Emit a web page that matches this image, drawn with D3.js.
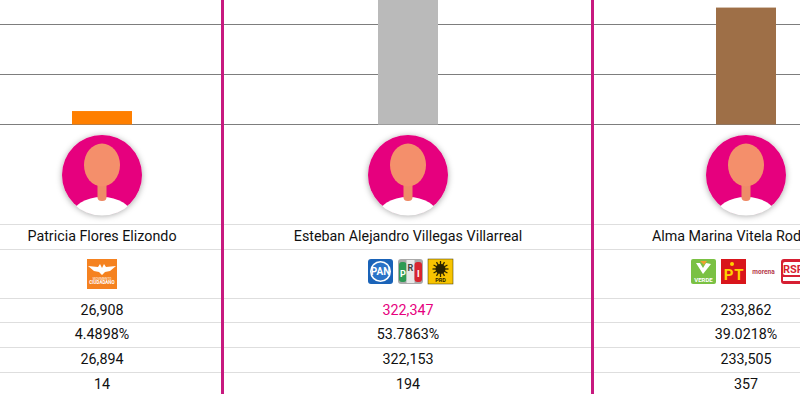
<!DOCTYPE html>
<html>
<head>
<meta charset="utf-8">
<script src="https://cdn.jsdelivr.net/npm/d3@7"></script>
<style>
    html, body {margin: 0; padding: 0; background: #fff; overflow: hidden;}
    svg {display: block; font-family: Roboto, sans-serif;}
</style>
</head>
<body>
<svg id="chart" width="800" height="394"></svg>
<script>
const candidates = ['Patricia Flores Elizondo', 'Esteban Alejandro Villegas Villarreal', 'Alma Marina Vitela Rodríguez']
const votes = [26908, 322347, 233862]
const voteLabels = ['26,908', '322,347', '233,862']
const percents = ['4.4898%', '53.7863%', '39.0218%']
const counted = ['26,894', '322,153', '233,505']
const other = ['14', '194', '357']
const barColors = ['#ff7f00', '#bababa', '#9e6f47']
const parties = [['MC'], ['PAN', 'PRI', 'PRD'], ['VERDE', 'PT', 'morena', 'RSP']]
const gridTicks = [0, 100000, 200000]

const WIDTH = 800
const HEIGHT = 394
const PINK = '#e6007e'
const DIVIDER = '#c7197f'
const centers = [102, 408, 746]
const dividers = [222.5, 592.5]
const rowLines = [224.5, 249.5, 298.5, 322.5, 347.5, 372.5]
const BAR_WIDTH = 60

const svg = d3.select('#chart')

const defs = svg.append('defs')
const shadow = defs.append('filter').attr('id', 'shadow')
    .attr('x', '-30%').attr('y', '-30%').attr('width', '160%').attr('height', '160%')
shadow.append('feDropShadow')
    .attr('dx', 0).attr('dy', 1).attr('stdDeviation', 3)
    .attr('flood-color', '#000').attr('flood-opacity', 0.35)

const yScale = d3.scaleLinear().domain([0, 100000]).range([124.5, 74.5])

// grid
svg.append('g').selectAll('line')
    .data(gridTicks)
    .join('line')
    .attr('x1', 0).attr('x2', WIDTH)
    .attr('y1', d => yScale(d)).attr('y2', d => yScale(d))
    .attr('stroke', '#7d7d7d')
    .attr('stroke-width', 1)

// bars, the tallest one runs off the top of the picture
svg.append('g').selectAll('rect')
    .data(votes)
    .join('rect')
    .attr('x', (d, i) => centers[i] - BAR_WIDTH / 2)
    .attr('width', BAR_WIDTH)
    .attr('y', d => Math.max(0, yScale(d)))
    .attr('height', d => yScale(0) - Math.max(0, yScale(d)))
    .attr('fill', (d, i) => barColors[i])

// table rows
svg.append('g').selectAll('line')
    .data(rowLines)
    .join('line')
    .attr('x1', 0).attr('x2', WIDTH)
    .attr('y1', d => d).attr('y2', d => d)
    .attr('stroke', '#dedede')

// avatars
function drawAvatar (cx) {
    const cy = 175
    const r = 40
    const clipId = `clip-${cx}`
    defs.append('clipPath').attr('id', clipId)
        .append('circle').attr('cx', cx).attr('cy', cy).attr('r', r + 0.6)

    const g = svg.append('g')
    g.append('circle')
        .attr('cx', cx).attr('cy', cy).attr('r', r)
        .attr('fill', PINK)
        .attr('filter', 'url(#shadow)')

    const inner = g.append('g').attr('clip-path', `url(#${clipId})`)
    inner.append('ellipse')
        .attr('cx', cx).attr('cy', cy + 41)
        .attr('rx', 30).attr('ry', 19)
        .attr('fill', '#fff')
    inner.append('rect')
        .attr('x', cx - 4.5).attr('y', cy - 6)
        .attr('width', 9).attr('height', 32)
        .attr('rx', 4)
        .attr('fill', '#ee8c68')
    inner.append('ellipse')
        .attr('cx', cx).attr('cy', cy - 10)
        .attr('rx', 18).attr('ry', 21.5)
        .attr('fill', '#f48f6b')
}
centers.forEach(drawAvatar)

// party logos, simplified
function logoText (g, x, y, size, fill, label, weight = 700) {
    g.append('text')
        .attr('x', x).attr('y', y)
        .attr('text-anchor', 'middle')
        .style('font-size', `${size}px`)
        .style('font-weight', weight)
        .attr('fill', fill)
        .text(label)
}

const logoDrawers = {
    MC (g, s) {
        g.append('rect').attr('width', s).attr('height', s).attr('fill', '#f58220')
        g.append('path')
            .attr('d', 'M1 7 L11 8 L13 5 L15 9 L17 5 L19 8 L29 7 L23 12 L18 13 L15 16 L12 13 L7 12 Z')
            .attr('fill', '#fff')
        logoText(g, s / 2, 20.5, 3, '#fff', 'MOVIMIENTO', 400)
        logoText(g, s / 2, 24.5, 4.5, '#fff', 'CIUDADANO')
    },
    PAN (g, s) {
        g.append('rect').attr('width', s).attr('height', s).attr('rx', 3).attr('fill', '#1a63b8')
        g.append('circle').attr('cx', s / 2).attr('cy', s / 2).attr('r', s * 0.42)
            .attr('fill', '#fff')
        g.append('circle').attr('cx', s / 2).attr('cy', s / 2).attr('r', s * 0.36)
            .attr('fill', '#2a73c8')
        logoText(g, s / 2, 16, 10, '#fff', 'PAN')
    },
    PRI (g, s) {
        g.append('rect').attr('width', s).attr('height', s).attr('rx', 3).attr('fill', '#aaa')
        g.append('rect').attr('x', 1).attr('y', 3).attr('width', 7.5).attr('height', 20).attr('rx', 3).attr('fill', '#2e9a54')
        g.append('rect').attr('x', 8.5).attr('y', 1).attr('width', 8).attr('height', 23).attr('fill', '#e8e8e8')
        g.append('rect').attr('x', 16.5).attr('y', 3).attr('width', 7.5).attr('height', 20).attr('rx', 3).attr('fill', '#d8242f')
        logoText(g, 4.8, 18, 9, '#fff', 'P')
        logoText(g, 12.5, 12, 9, '#444', 'R')
        logoText(g, 20.3, 18, 9, '#fff', 'I')
    },
    PRD (g, s) {
        g.append('rect').attr('width', s).attr('height', s).attr('fill', '#f8c400')
            .attr('stroke', '#3a3000').attr('stroke-width', 0.5)
        g.append('circle').attr('cx', s / 2).attr('cy', 10).attr('r', 5).attr('fill', '#2a2400')
        d3.range(12).forEach(i => {
            const a = i * Math.PI / 6
            g.append('line')
                .attr('x1', s / 2).attr('y1', 10)
                .attr('x2', s / 2 + 8 * Math.cos(a)).attr('y2', 10 + 8 * Math.sin(a))
                .attr('stroke', '#2a2400').attr('stroke-width', 1.3)
        })
        logoText(g, s / 2, 23, 5.5, '#2a2400', 'PRD')
    },
    VERDE (g, s) {
        g.append('rect').attr('width', s).attr('height', s).attr('rx', 2).attr('fill', '#7ac143')
        g.append('path').attr('d', 'M5 4 L12 15 L20 5 L15 4 L12 9 L9 4 Z').attr('fill', '#fff')
        g.append('path').attr('d', 'M9 2 L16 2 L13 6 Z').attr('fill', '#f0a030')
        logoText(g, s / 2, 23, 6, '#fff', 'VERDE')
    },
    PT (g, s) {
        g.append('rect').attr('width', s).attr('height', s).attr('fill', '#d9151b')
        logoText(g, 7.5, 21, 15, '#ffd200', 'P')
        logoText(g, 18, 21, 15, '#ffd200', 'T')
        g.append('circle').attr('cx', 11).attr('cy', 5).attr('r', 2).attr('fill', '#ffd200')
    },
    morena (g, s) {
        logoText(g, s / 2, 14.5, 6.5, '#b5394a', 'morena')
    },
    RSP (g, s) {
        g.append('rect').attr('width', s).attr('height', s).attr('rx', 3).attr('fill', '#d61f33')
        g.append('rect').attr('x', 2).attr('y', 3).attr('width', s - 4).attr('height', 13).attr('rx', 2).attr('fill', '#fff')
        logoText(g, s / 2, 14, 11, '#d61f33', 'RSP')
        g.append('rect').attr('x', 2).attr('y', 18).attr('width', s - 4).attr('height', 4).attr('fill', '#fff')
    }
}

parties.forEach((list, i) => {
    const size = list.length === 1 ? 30 : 25
    const gap = list.length === 1 ? 0 : 5
    const total = list.length * (size + gap)
    // logos carry a left margin so the group sits a bit right of centre
    const logoX = d3.scaleBand().domain(list)
        .range([centers[i] - total / 2 + gap, centers[i] + total / 2 + gap])
    list.forEach(party => {
        const g = svg.append('g')
            .attr('transform', `translate(${logoX(party)},259)`)
        logoDrawers[party](g, size)
    })
})

// table text
function textRow (labels, y, size = 14.3) {
    svg.append('g').selectAll('text')
        .data(labels)
        .join('text')
        .attr('x', (d, i) => centers[i])
        .attr('y', y)
        .attr('text-anchor', 'middle')
        .style('font-size', `${size}px`)
        .attr('fill', (d, i) => y === 315 && i === 1 ? PINK : '#111')
        .text(d => d)
}
textRow(candidates, 241)
textRow(voteLabels, 315)
textRow(percents, 339)
textRow(counted, 364)
textRow(other, 389)

// column dividers
svg.append('g').selectAll('line')
    .data(dividers)
    .join('line')
    .attr('x1', d => d).attr('x2', d => d)
    .attr('y1', 0).attr('y2', HEIGHT)
    .attr('stroke', DIVIDER)
    .attr('stroke-width', 3)
</script>
</body>
</html>
